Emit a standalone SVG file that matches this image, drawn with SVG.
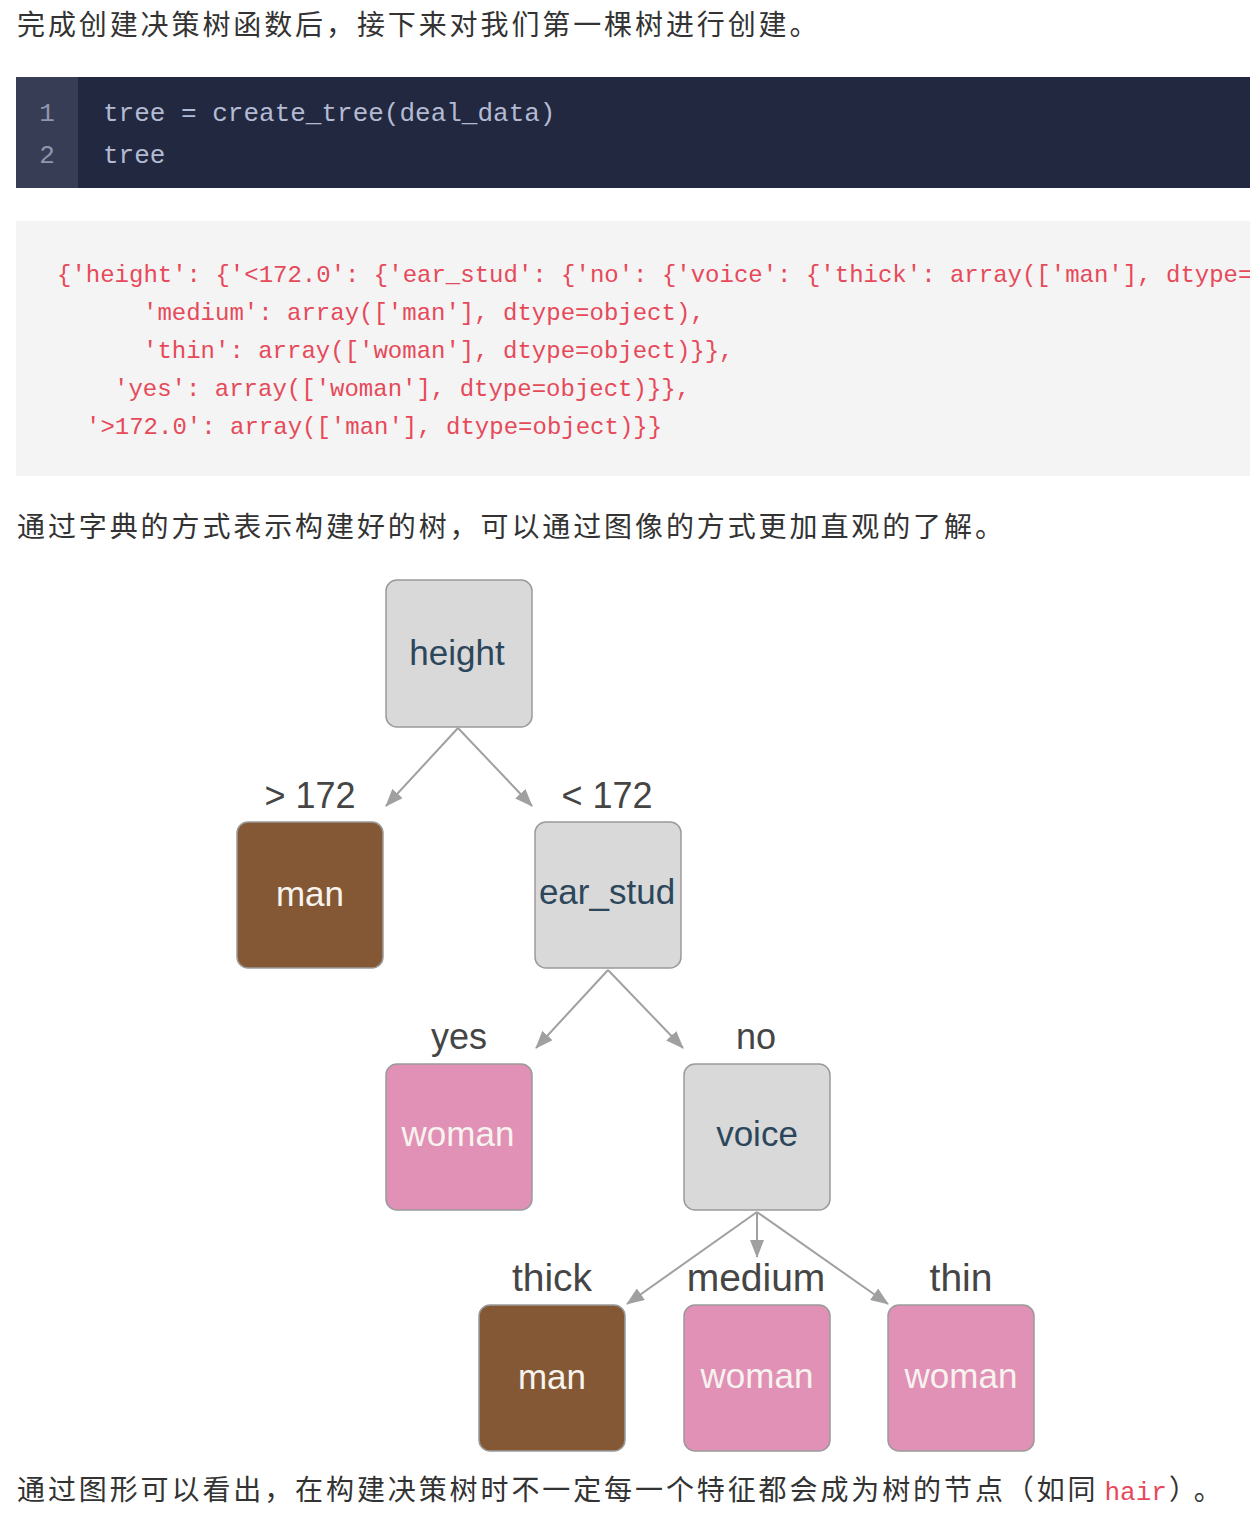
<svg xmlns="http://www.w3.org/2000/svg" width="1250" height="1532" viewBox="0 0 1250 1532">
<defs>
<style>
.body{font-family:"Noto Sans CJK SC","Noto Sans",sans-serif;font-size:28px;letter-spacing:2.9px;fill:#333}
.ln{font-family:"Liberation Mono",monospace;font-size:26px;fill:#8f95ad}
.code{font-family:"Liberation Mono",monospace;font-size:26px;fill:#b3bbd4;white-space:pre}
.out{font-family:"Liberation Mono",monospace;font-size:24px;fill:#e64a5a;white-space:pre}
.box{stroke:#9a9a9a;stroke-width:1.5}
.feat{fill:#d9d9d9}
.man{fill:#845834}
.woman{fill:#e190b6}
.nt{font-family:"Liberation Sans",Arial,sans-serif;font-size:35px;text-anchor:middle}
.ntf{fill:#2c475c}
.ntl{fill:#f7f3ee}
.el{font-family:"Liberation Sans",Arial,sans-serif;font-size:36px;text-anchor:middle;fill:#454545}
.el2{font-size:39px}
.edge{stroke:#a0a0a0;stroke-width:2;fill:none}
</style>
<marker id="arr" markerUnits="userSpaceOnUse" markerWidth="18" markerHeight="14" viewBox="0 0 18 14" refX="17" refY="7" orient="auto">
<path d="M0,0 L18,7 L0,14 z" fill="#a0a0a0"/>
</marker>
</defs>
<rect width="1250" height="1532" fill="#ffffff"/>

<text class="body" x="17" y="35">完成创建决策树函数后，接下来对我们第一棵树进行创建。</text>

<g id="code-block">
<rect x="16" y="77" width="1234" height="111" fill="#22283f"/>
<rect x="16" y="77" width="62" height="111" fill="#383d56"/>
<text class="ln" x="47" y="121" text-anchor="middle">1</text>
<text class="ln" x="47" y="163" text-anchor="middle">2</text>
<text class="code" x="103" y="121">tree = create_tree(deal_data)</text>
<text class="code" x="103" y="163">tree</text>
</g>

<g id="output-block">
<rect x="16" y="221" width="1234" height="255" fill="#f4f4f4"/>
<text class="out" x="57" y="282">{'height': {'&lt;172.0': {'ear_stud': {'no': {'voice': {'thick': array(['man'], dtype=</text>
<text class="out" x="143" y="320">'medium': array(['man'], dtype=object),</text>
<text class="out" x="143" y="358">'thin': array(['woman'], dtype=object)}},</text>
<text class="out" x="114" y="396">'yes': array(['woman'], dtype=object)}},</text>
<text class="out" x="86" y="434">'&gt;172.0': array(['man'], dtype=object)}}</text>
</g>

<text class="body" x="17" y="537">通过字典的方式表示构建好的树，可以通过图像的方式更加直观的了解。</text>

<g id="connectors">
<line class="edge" x1="458" y1="728" x2="386" y2="806" marker-end="url(#arr)"/>
<line class="edge" x1="458" y1="728" x2="532" y2="806" marker-end="url(#arr)"/>
<line class="edge" x1="608" y1="970" x2="536" y2="1048" marker-end="url(#arr)"/>
<line class="edge" x1="608" y1="970" x2="683" y2="1048" marker-end="url(#arr)"/>
<line class="edge" x1="757" y1="1212" x2="627" y2="1304" marker-end="url(#arr)"/>
<line class="edge" x1="757" y1="1212" x2="757" y2="1257" marker-end="url(#arr)"/>
<line class="edge" x1="757" y1="1212" x2="888" y2="1304" marker-end="url(#arr)"/>
</g>

<g id="edge-labels">
<text class="el" x="310" y="808">&gt; 172</text>
<text class="el" x="607" y="808">&lt; 172</text>
<text class="el" x="459" y="1049">yes</text>
<text class="el" x="756" y="1049">no</text>
<text class="el el2" x="552" y="1291">thick</text>
<text class="el el2" x="756" y="1291">medium</text>
<text class="el el2" x="961" y="1291">thin</text>
</g>

<g id="node-height">
<rect class="box feat" x="386" y="580" width="146" height="147" rx="11"/>
<text class="nt ntf" x="457" y="665" font-size="38">height</text>
</g>
<g id="node-man1">
<rect class="box man" x="237" y="822" width="146" height="146" rx="11"/>
<text class="nt ntl" x="310" y="906" font-size="38">man</text>
</g>
<g id="node-ear_stud">
<rect class="box feat" x="535" y="822" width="146" height="146" rx="11"/>
<text class="nt ntf" x="607" y="904" font-size="34.5">ear_stud</text>
</g>
<g id="node-woman-yes">
<rect class="box woman" x="386" y="1064" width="146" height="146" rx="11"/>
<text class="nt ntl" x="458" y="1146">woman</text>
</g>
<g id="node-voice">
<rect class="box feat" x="684" y="1064" width="146" height="146" rx="11"/>
<text class="nt ntf" x="757" y="1146">voice</text>
</g>
<g id="node-man-thick">
<rect class="box man" x="479" y="1305" width="146" height="146" rx="11"/>
<text class="nt ntl" x="552" y="1389" font-size="37">man</text>
</g>
<g id="node-woman-medium">
<rect class="box woman" x="684" y="1305" width="146" height="146" rx="11"/>
<text class="nt ntl" x="757" y="1388">woman</text>
</g>
<g id="node-woman-thin">
<rect class="box woman" x="888" y="1305" width="146" height="146" rx="11"/>
<text class="nt ntl" x="961" y="1388">woman</text>
</g>

<text class="body" x="17" y="1500">通过图形可以看出，在构建决策树时不一定每一个特征都会成为树的节点（如同<tspan font-family="Liberation Mono, monospace" fill="#e64a5a" font-size="26" letter-spacing="0" dx="6">hair</tspan><tspan dx="2">）</tspan><tspan dx="8">。</tspan></text>
</svg>
